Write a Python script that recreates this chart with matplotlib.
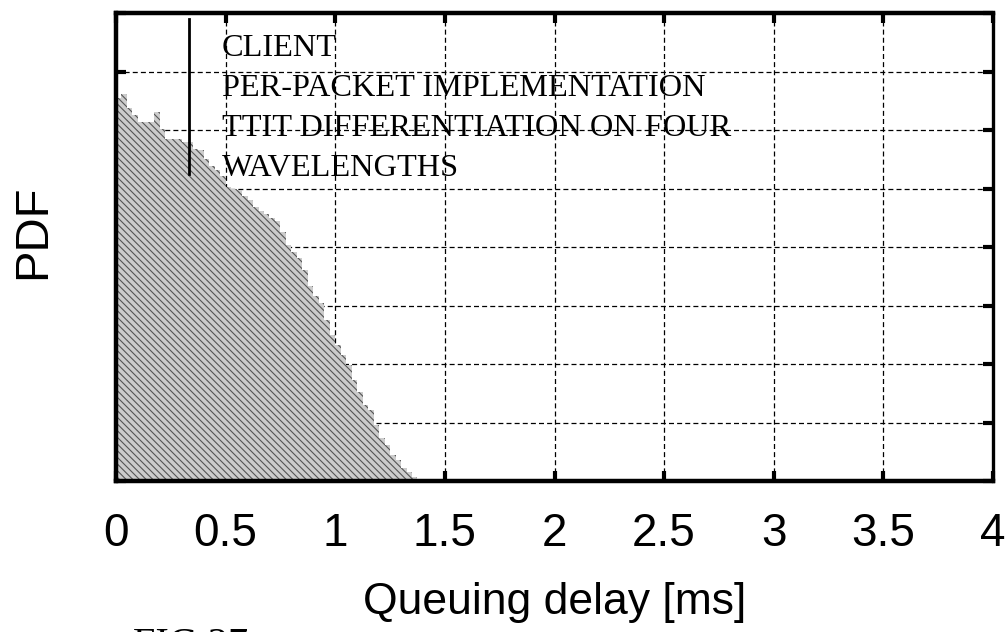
import numpy as np
import matplotlib
matplotlib.use("Agg")
import matplotlib.pyplot as plt

# histogram of queuing delay, bin width 0.025 ms starting at 0
bin_width = 0.025
pdf_values = [
    6.55, 6.62, 6.37, 6.25, 6.13, 6.13, 6.13, 6.31, 6.02, 5.85,
    5.85, 5.85, 5.80, 5.80, 5.68, 5.65, 5.51, 5.39, 5.31, 5.22,
    5.03, 5.00, 4.98, 4.88, 4.81, 4.68, 4.62, 4.56, 4.49, 4.44,
    4.25, 4.03, 3.91, 3.82, 3.60, 3.34, 3.17, 3.04, 2.75, 2.49,
    2.32, 2.15, 1.98, 1.72, 1.52, 1.30, 1.21, 0.96, 0.73, 0.61,
    0.44, 0.36, 0.22, 0.15, 0.07, 0.03,
]
x_ticks = [0, 0.5, 1, 1.5, 2, 2.5, 3, 3.5, 4]
x_tick_labels = ["0", "0.5", "1", "1.5", "2", "2.5", "3", "3.5", "4"]
legend_lines = ["CLIENT", "PER-PACKET IMPLEMENTATION",
                "TTIT DIFFERENTIATION ON FOUR", "WAVELENGTHS"]

sans = ["Liberation Sans", "DejaVu Sans"]
serif = ["Liberation Serif", "DejaVu Serif"]

plt.rcParams["hatch.linewidth"] = 0.8

fig = plt.figure(figsize=(10.08, 6.32), dpi=100)
ax = fig.add_axes([116 / 1008, 1 - 481 / 632, 877 / 1008, (481 - 13) / 632])

edges = np.arange(len(pdf_values) + 1) * bin_width
ax.stairs(pdf_values, edges, fill=True, facecolor="#cccccc",
          edgecolor="#555555", hatch="\\\\\\\\\\", linewidth=0, zorder=2)

ax.set_xlim(0, 4)
ax.set_ylim(0, 8)
ax.set_xticks(x_ticks)
ax.set_xticklabels(x_tick_labels, family=sans, fontsize=33)
ax.set_yticks(np.arange(0, 9))
ax.set_yticklabels([])
ax.set_axisbelow(True)
ax.grid(True, color="black", linestyle=(0, (4, 2.5)), linewidth=0.9)

ax.tick_params(direction="in", length=7, width=3, top=True, right=True,
               pad=22)
for side in ["left", "bottom", "top"]:
    ax.spines[side].set_linewidth(3.2)
ax.spines["right"].set_linewidth(2.4)

ax.set_xlabel("Queuing delay [ms]", family=sans, fontsize=32, labelpad=19)
ax.set_ylabel("PDF", family=sans, fontsize=34)
ax.yaxis.set_label_coords(-0.069, 0.532)

# legend: vertical line handle and four-line label
ax.plot([0.0833, 0.0833], [0.988, 0.656], transform=ax.transAxes,
        color="black", linewidth=2, zorder=3)
ax.text(0.121, 0.956, "\n".join(legend_lines), transform=ax.transAxes,
        family=serif, fontsize=23.3, va="top", ha="left",
        linespacing=1.5, zorder=3)

fig.text(133 / 1008, 1 - 627 / 632, "FIG 27", family=serif, fontsize=29,
         va="top", ha="left")

fig.savefig("out.png", dpi=100)
